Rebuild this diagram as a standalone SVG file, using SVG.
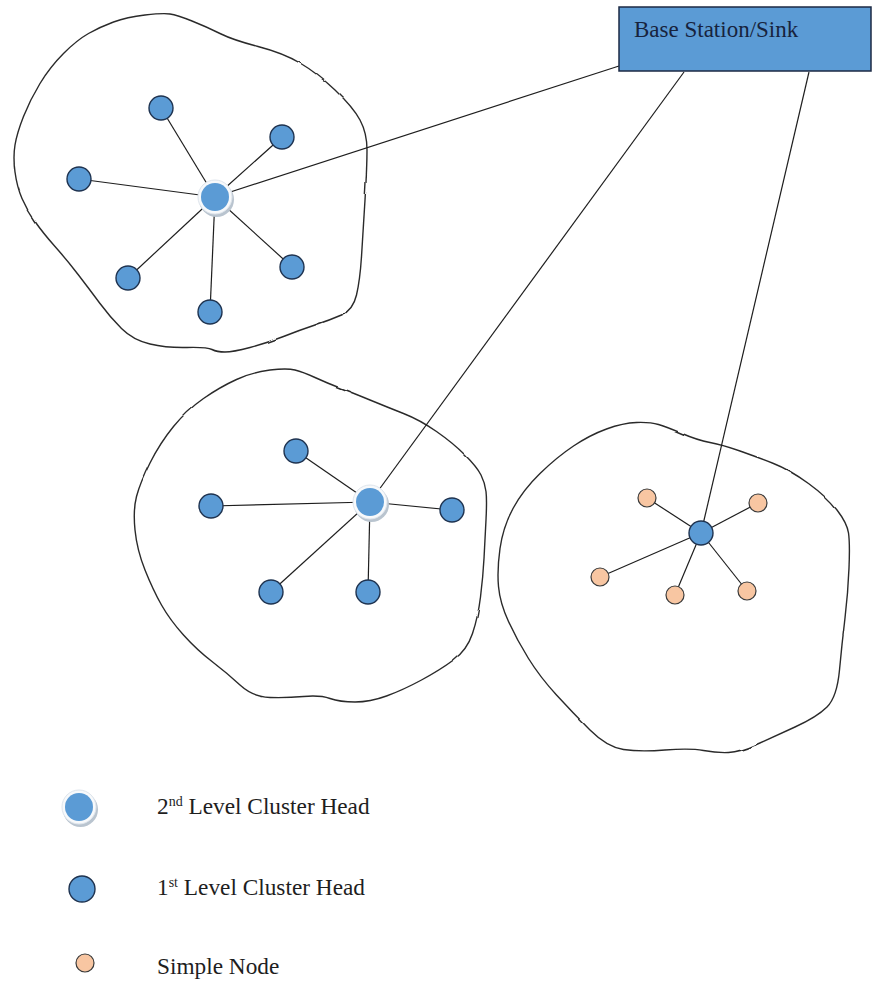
<svg xmlns="http://www.w3.org/2000/svg" width="872" height="982" viewBox="0 0 872 982">
<style>
.cl{fill:none;stroke:#2a2a2a;stroke-width:1.4;filter:url(#wob)}
.ln{stroke:#1e1e1e;stroke-width:1.2;fill:none}
.n1{fill:#5b9bd5;stroke:#1f3350;stroke-width:1.4}
.sn{fill:#f8c6a2;stroke:#3a3a3a;stroke-width:1.2}
.t{font-family:"Liberation Serif","Times New Roman",serif;fill:#1e1e1e}
</style>
<defs>
<filter id="wob" x="-5%" y="-5%" width="110%" height="110%">
<feTurbulence type="fractalNoise" baseFrequency="0.045" numOctaves="1" seed="4" result="n"/>
<feDisplacementMap in="SourceGraphic" in2="n" scale="2.2" xChannelSelector="R" yChannelSelector="G"/>
</filter>
<g id="head2">
<circle cx="1.5" cy="2.5" r="17.5" fill="#b9c4cf"/>
<circle cx="0" cy="0" r="17" fill="#f7f9fb" stroke="#dfe5ec" stroke-width="1"/>
<circle cx="0" cy="0" r="14" fill="#5b9bd5"/>
</g>
</defs>
<rect width="872" height="982" fill="#ffffff"/>

<g id="clusters">
<path class="cl" d="M145,15 Q163,13 170,14 Q177,15 192,21 Q207,27 220,33.5 Q233,40 258,46.5 Q283,53 300,63 Q317,73 335,90 Q353,107 360,120 Q367,133 367,150 Q367,167 365,200 Q363,233 361.5,256.5 Q360,280 356.5,295 Q353,310 341.5,315 Q330,320 315,325 Q300,330 283.5,336.5 Q267,343 250,347.5 Q233,352 225,352 Q217,352 212,349.5 Q207,347 187,347.5 Q167,348 150,344 Q133,340 121.5,328.5 Q110,317 100,303.5 Q90,290 78.5,275 Q67,260 55,246.5 Q43,233 35,221.5 Q27,210 22,198.5 Q17,187 15,172 Q13,157 15,145 Q17,133 23.5,116.5 Q30,100 40,83.5 Q50,67 63.5,53.5 Q77,40 88.5,33.5 Q100,27 113.5,22 Q127,17 145,15 Z"/>
<path class="cl" d="M270,370 Q287,368 295,370 Q303,372 315,377.5 Q327,383 340,388 Q353,393 370,400 Q387,407 403.5,413.5 Q420,420 436.5,431.5 Q453,443 465,455 Q477,467 481,475 Q485,483 486,491.5 Q487,500 486,520 Q485,540 484,558.5 Q483,577 480.5,597 Q478,617 472.5,633.5 Q467,650 453.5,660 Q440,670 421.5,680 Q403,690 386.5,696 Q370,702 355,702 Q340,702 330,698.5 Q320,695 303.5,696.5 Q287,698 270,697.5 Q253,697 240,685 Q227,673 212,661.5 Q197,650 183.5,635 Q170,620 161.5,605 Q153,590 145,570 Q137,550 135,530 Q133,510 136.5,496.5 Q140,483 150,463 Q160,443 173.5,426.5 Q187,410 203.5,398.5 Q220,387 236.5,379.5 Q253,372 270,370 Z"/>
<path class="cl" d="M636.5,422.5 Q650,422 658.5,424.5 Q667,427 682,433.5 Q697,440 710,442.5 Q723,445 740,451 Q757,457 773.5,463.5 Q790,470 808.5,483.5 Q827,497 837,510 Q847,523 848.5,533 Q850,543 849,568 Q848,593 845,618 Q842,643 839.5,670 Q837,697 827,707 Q817,717 795,727 Q773,737 756.5,744.5 Q740,752 728.5,752.5 Q717,753 703.5,750.5 Q690,748 665,750 Q640,752 623.5,749.5 Q607,747 590,730 Q573,713 556.5,695 Q540,677 528.5,658.5 Q517,640 508.5,621.5 Q500,603 498.5,586.5 Q497,570 500,548.5 Q503,527 513,508.5 Q523,490 540,473.5 Q557,457 573.5,446 Q590,435 606.5,429 Q623,423 636.5,422.5 Z"/>
</g>

<g id="connectors">
<line class="ln" x1="215" y1="197" x2="619" y2="66"/>
<line class="ln" x1="370" y1="502" x2="684" y2="72"/>
<line class="ln" x1="701" y1="533" x2="809" y2="72"/>
<line class="ln" x1="215" y1="197" x2="161" y2="108"/>
<line class="ln" x1="215" y1="197" x2="282" y2="137"/>
<line class="ln" x1="215" y1="197" x2="79" y2="179"/>
<line class="ln" x1="215" y1="197" x2="128" y2="278"/>
<line class="ln" x1="215" y1="197" x2="210" y2="312"/>
<line class="ln" x1="215" y1="197" x2="292" y2="267"/>
<line class="ln" x1="370" y1="502" x2="296" y2="451"/>
<line class="ln" x1="370" y1="502" x2="211" y2="506"/>
<line class="ln" x1="370" y1="502" x2="452" y2="510"/>
<line class="ln" x1="370" y1="502" x2="271" y2="592"/>
<line class="ln" x1="370" y1="502" x2="368" y2="592"/>
<line class="ln" x1="701" y1="533" x2="647" y2="498"/>
<line class="ln" x1="701" y1="533" x2="758" y2="503"/>
<line class="ln" x1="701" y1="533" x2="600" y2="577"/>
<line class="ln" x1="701" y1="533" x2="675" y2="595"/>
<line class="ln" x1="701" y1="533" x2="747" y2="591"/>
</g>

<g id="base-station">
<rect x="619" y="7" width="252" height="64" fill="#5b9bd5" stroke="#1c2a44" stroke-width="1.5"/>
<text class="t" x="634" y="37" font-size="23" style="fill:#17233d">Base Station/Sink</text>
</g>

<g id="cluster1-nodes">
<g id="c1-n1"><circle class="n1" cx="161" cy="108" r="12"/></g>
<g id="c1-n2"><circle class="n1" cx="282" cy="137" r="12"/></g>
<g id="c1-n3"><circle class="n1" cx="79" cy="179" r="12"/></g>
<g id="c1-n4"><circle class="n1" cx="128" cy="278" r="12"/></g>
<g id="c1-n5"><circle class="n1" cx="210" cy="312" r="12"/></g>
<g id="c1-n6"><circle class="n1" cx="292" cy="267" r="12"/></g>
<g id="c1-head"><use href="#head2" x="215" y="197"/></g>
</g>

<g id="cluster2-nodes">
<g id="c2-n1"><circle class="n1" cx="296" cy="451" r="12"/></g>
<g id="c2-n2"><circle class="n1" cx="211" cy="506" r="12"/></g>
<g id="c2-n3"><circle class="n1" cx="452" cy="510" r="12"/></g>
<g id="c2-n4"><circle class="n1" cx="271" cy="592" r="12"/></g>
<g id="c2-n5"><circle class="n1" cx="368" cy="592" r="12"/></g>
<g id="c2-head"><use href="#head2" x="370" y="502"/></g>
</g>

<g id="cluster3-nodes">
<g id="c3-n1"><circle class="sn" cx="647" cy="498" r="9"/></g>
<g id="c3-n2"><circle class="sn" cx="758" cy="503" r="9"/></g>
<g id="c3-n3"><circle class="sn" cx="600" cy="577" r="9"/></g>
<g id="c3-n4"><circle class="sn" cx="675" cy="595" r="9"/></g>
<g id="c3-n5"><circle class="sn" cx="747" cy="591" r="9"/></g>
<g id="c3-head"><circle class="n1" cx="701" cy="533" r="12"/></g>
</g>

<g id="legend">
<g id="legend-2nd">
<use href="#head2" x="79" y="807"/>
<text class="t" x="157" y="814" font-size="23.3">2<tspan font-size="14" dy="-8">nd</tspan><tspan dy="8"> Level Cluster Head</tspan></text>
</g>
<g id="legend-1st">
<circle class="n1" cx="82" cy="889" r="13"/>
<text class="t" x="157" y="895" font-size="23.3">1<tspan font-size="14" dy="-8">st</tspan><tspan dy="8"> Level Cluster Head</tspan></text>
</g>
<g id="legend-simple">
<circle class="sn" cx="85" cy="963" r="9"/>
<text class="t" x="157" y="974" font-size="23.3">Simple Node</text>
</g>
</g>
</svg>
